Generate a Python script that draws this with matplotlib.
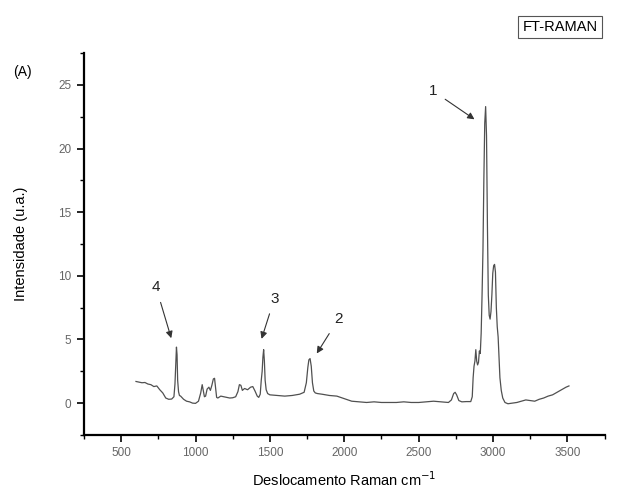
import matplotlib.pyplot as plt
from matplotlib.ticker import MultipleLocator

plt.rcParams['font.family'] = ['Liberation Sans', 'DejaVu Sans']

# espectro FT-Raman
deslocamento = [600, 620, 640, 660, 680, 700, 720, 740, 760, 780, 800, 820, 840, 855, 862, 868, 872, 876, 880,
                886, 892, 900, 920, 940, 960, 980, 1000, 1020, 1035, 1045, 1052, 1060, 1068, 1078, 1090, 1100,
                1110, 1120, 1128, 1135, 1142, 1150, 1170, 1190, 1210, 1230, 1250, 1270, 1285, 1295, 1305, 1315,
                1330, 1350, 1370, 1385, 1400, 1415, 1425, 1435, 1442, 1448, 1453, 1458, 1463, 1468, 1475, 1485,
                1500, 1550, 1600, 1650, 1700, 1730, 1745, 1755, 1762, 1770, 1778, 1786, 1795, 1805, 1820, 1850,
                1900, 1950, 2000, 2050, 2100, 2150, 2200, 2250, 2300, 2350, 2400, 2450, 2500, 2550, 2600, 2650,
                2700, 2720, 2735, 2745, 2755, 2770, 2790, 2820, 2850, 2860, 2866, 2872, 2878, 2884, 2890, 2896,
                2902, 2908, 2914, 2920, 2926, 2932, 2938, 2944, 2950, 2956, 2962, 2968, 2974, 2980, 2986, 2992,
                2998, 3004, 3010, 3016, 3022, 3028, 3034, 3040, 3046, 3055, 3065, 3080, 3100, 3130, 3160, 3190,
                3220, 3250, 3280, 3310, 3340, 3370, 3400, 3430, 3460, 3490, 3510]
intensidade = [1.70, 1.65, 1.60, 1.62, 1.50, 1.45, 1.30, 1.35, 1.05, 0.80, 0.40, 0.30, 0.32, 0.50, 1.5, 3.2, 4.4, 3.8, 1.8,
               0.9, 0.6, 0.55, 0.30, 0.15, 0.10, 0.00, -0.02, 0.15, 0.8, 1.45, 1.0, 0.5, 0.55, 1.1, 1.25, 1.0,
               1.4, 1.9, 1.95, 1.2, 0.45, 0.40, 0.55, 0.50, 0.45, 0.40, 0.42, 0.50, 0.9, 1.45, 1.40, 1.0,
               1.15, 1.05, 1.25, 1.3, 0.95, 0.55, 0.45, 0.7, 1.8, 2.5, 3.6, 4.2, 3.3, 1.8, 1.05, 0.75,
               0.65, 0.60, 0.55, 0.60, 0.70, 0.85, 1.6, 2.8, 3.4, 3.5, 2.9, 1.6, 0.95, 0.80, 0.75, 0.70,
               0.60, 0.55, 0.35, 0.15, 0.10, 0.05, 0.10, 0.05, 0.05, 0.05, 0.10, 0.05, 0.05, 0.10, 0.15, 0.10,
               0.05, 0.25, 0.75, 0.85, 0.65, 0.20, 0.10, 0.12, 0.12, 0.5, 2.0, 2.9, 3.3, 4.2, 3.3, 3.0,
               3.2, 4.1, 3.9, 5.5, 8.5, 12.0, 17.5, 22.0, 23.3, 21.0, 14.0, 8.5, 6.9, 6.6, 7.2, 8.5,
               10.2, 10.8, 10.9, 10.3, 7.5, 6.0, 5.2, 3.5, 2.0, 1.0, 0.4, 0.05, -0.05, 0.00, 0.05, 0.15,
               0.25, 0.20, 0.15, 0.30, 0.40, 0.55, 0.65, 0.85, 1.05, 1.25, 1.35]

# picos marcados: rotulo, posicao do texto, ponta da seta
picos = ['1', '2', '3', '4']
texto_x = [2600, 1960, 1530, 735]
texto_y = [24.5, 6.6, 8.2, 9.1]
seta_x = [2875, 1815, 1444, 837]
seta_y = [22.3, 3.9, 5.05, 5.1]

fig = plt.figure(figsize=(6.17, 4.92), dpi=100)
ax = fig.add_axes([0.136, 0.116, 0.844, 0.776])

ax.plot(deslocamento, intensidade, color='#505050', linewidth=0.9)

for rot, tx, ty, sx, sy in zip(picos, texto_x, texto_y, seta_x, seta_y):
    ax.annotate(rot, xy=(sx, sy), xytext=(tx, ty), fontsize=11, color='#222222',
                ha='center', va='center',
                arrowprops=dict(arrowstyle='-|>', color='#333333', lw=0.8,
                                mutation_scale=10, shrinkA=4, shrinkB=0))

ax.set_xlim(250, 3750)
ax.set_ylim(-2.5, 27.5)
ax.xaxis.set_major_locator(MultipleLocator(500))
ax.xaxis.set_minor_locator(MultipleLocator(250))
ax.yaxis.set_major_locator(MultipleLocator(5))
ax.yaxis.set_minor_locator(MultipleLocator(2.5))

for lado in ['top', 'right']:
    ax.spines[lado].set_visible(False)
for lado in ['left', 'bottom']:
    ax.spines[lado].set_linewidth(1.6)

ax.tick_params(which='major', direction='out', length=5, width=1.2, labelsize=8.5,
               labelcolor='#666666', pad=4)
ax.tick_params(which='minor', direction='out', length=3, width=1.0)

ax.set_xlabel('Deslocamento Raman cm$^{-1}$', fontsize=10.5, labelpad=8)
ax.set_ylabel('Intensidade (u.a.)', fontsize=10.5, labelpad=22)

fig.text(0.036, 0.853, '(A)', fontsize=10, va='center', ha='center')
fig.text(0.9075, 0.945, 'FT-RAMAN', fontsize=10.5, va='center', ha='center',
         bbox=dict(boxstyle='square,pad=0.3', facecolor='white', edgecolor='#555555', linewidth=0.8))

plt.savefig('out.png', dpi=100)
